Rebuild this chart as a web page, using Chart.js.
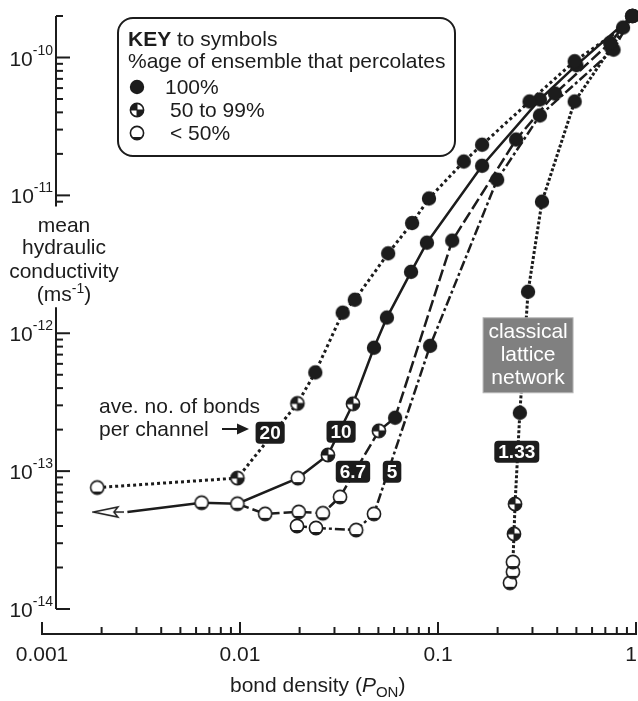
<!DOCTYPE html>
<html>
<head>
<meta charset="utf-8">
<script src="https://cdn.jsdelivr.net/npm/chart.js@4.4.1/dist/chart.umd.min.js"></script>
<style>
  html, body { margin: 0; padding: 0; background: #fff; }
  #wrap { width: 638px; height: 701px; position: relative; }
</style>
</head>
<body>
<div id="wrap"><canvas id="c"></canvas></div>
<script>
// Mean hydraulic conductivity (m s^-1) against bond density P_ON,
// one curve per average number of bonds per channel.
// Status codes: F = 100 % of ensemble percolates, P = 50 to 99 %, O = < 50 %, '' = no symbol.

const bonds20X = [0.0019, 0.0097, 0.0195, 0.024, 0.033, 0.038, 0.056, 0.074, 0.090, 0.135, 0.167, 0.29, 0.49, 0.86, 0.96];
const bonds20Y = [7.6e-14, 8.9e-14, 3.1e-13, 5.2e-13, 1.41e-12, 1.75e-12, 3.8e-12, 6.3e-12, 9.5e-12, 1.76e-11, 2.33e-11, 4.8e-11, 9.4e-11, 1.65e-10, 2.0e-10];
const bonds20S = ['O', 'P', 'P', 'F', 'F', 'F', 'F', 'F', 'F', 'F', 'F', 'F', 'F', 'F', 'F'];

const bonds10X = [0.0027, 0.0064, 0.0097, 0.0196, 0.0278, 0.0372, 0.0475, 0.0552, 0.0731, 0.0879, 0.167, 0.327, 0.50, 0.96];
const bonds10Y = [5.05e-14, 5.9e-14, 5.8e-14, 8.9e-14, 1.31e-13, 3.08e-13, 7.85e-13, 1.30e-12, 2.79e-12, 4.54e-12, 1.64e-11, 4.96e-11, 8.8e-11, 2.0e-10];
const bonds10S = ['', 'O', 'O', 'O', 'P', 'P', 'F', 'F', 'F', 'F', 'F', 'F', 'F', 'F'];

const bonds67X = [0.0097, 0.0134, 0.0198, 0.0262, 0.032, 0.0503, 0.0607, 0.118, 0.248, 0.39, 0.74, 0.96];
const bonds67Y = [5.8e-14, 4.9e-14, 5.06e-14, 4.95e-14, 6.5e-14, 1.96e-13, 2.44e-13, 4.7e-12, 2.54e-11, 5.48e-11, 1.28e-10, 2.0e-10];
const bonds67S = ['', 'O', 'O', 'O', 'O', 'P', 'F', 'F', 'F', 'F', 'F', 'F'];

const bonds5X = [0.0194, 0.0242, 0.0386, 0.0475, 0.0912, 0.199, 0.327, 0.77, 0.96];
const bonds5Y = [4.0e-14, 3.87e-14, 3.74e-14, 4.9e-14, 8.1e-13, 1.30e-11, 3.8e-11, 1.14e-10, 2.0e-10];
const bonds5S = ['O', 'O', 'O', 'O', 'F', 'F', 'F', 'F', 'F'];

const latticeX = [0.231, 0.239, 0.239, 0.242, 0.245, 0.259, 0.285, 0.335, 0.49, 0.75, 0.96];
const latticeY = [1.55e-14, 1.86e-14, 2.19e-14, 3.51e-14, 5.78e-14, 2.65e-13, 2.0e-12, 9.0e-12, 4.8e-11, 1.18e-10, 2.0e-10];
const latticeS = ['O', 'O', 'O', 'P', 'P', 'F', 'F', 'F', 'F', 'F', 'F'];

// arrow marking the low-density continuation of the curves
const arrowX = [0.00215];
const arrowY = [5.05e-14];

// curve tags (average number of bonds per channel)
const tagText = ['20', '10', '6.7', '5', '1.33'];
const tagX = [0.0142, 0.0324, 0.0372, 0.0586, 0.25];
const tagY = [1.9e-13, 1.93e-13, 9.9e-14, 9.9e-14, 1.38e-13];

// axis ticks
const xMajor = [0.001, 0.01, 0.1, 1];
const xMajorText = ['0.001', '0.01', '0.1', '1'];
const yMajor = [1e-14, 1e-13, 1e-12, 1e-11, 1e-10];
const yMajorExp = ['-14', '-13', '-12', '-11', '-10'];

const INK = '#1c1c1c';
const FONT = '"Liberation Sans", Arial, Helvetica, sans-serif';

// symbol images
function makeMarker(kind) {
  const s = 18, m = s / 2, r = 6.6;
  const c = document.createElement('canvas');
  c.width = s; c.height = s;
  const g = c.getContext('2d');
  g.strokeStyle = INK; g.fillStyle = INK; g.lineWidth = 1.6;
  if (kind === 'F') {
    g.beginPath(); g.arc(m, m, r + 0.6, 0, Math.PI * 2); g.fill();
  } else if (kind === 'P') {
    g.beginPath(); g.arc(m, m, r, 0, Math.PI * 2); g.fillStyle = '#fff'; g.fill();
    g.fillStyle = INK;
    g.beginPath(); g.moveTo(m, m); g.arc(m, m, r, Math.PI, Math.PI * 1.5); g.closePath(); g.fill();
    g.beginPath(); g.moveTo(m, m); g.arc(m, m, r, 0, Math.PI * 0.5); g.closePath(); g.fill();
    g.beginPath(); g.moveTo(m - r, m); g.lineTo(m + r, m); g.moveTo(m, m - r); g.lineTo(m, m + r); g.lineWidth = 1; g.stroke();
    g.lineWidth = 1.6; g.beginPath(); g.arc(m, m, r, 0, Math.PI * 2); g.stroke();
  } else {
    g.beginPath(); g.arc(m, m, r, 0, Math.PI * 2); g.fillStyle = '#fff'; g.fill();
    g.fillStyle = INK;
    g.beginPath(); g.arc(m, m, r, Math.PI * 0.2, Math.PI * 0.8); g.closePath(); g.fill();
    g.beginPath(); g.arc(m, m, r, 0, Math.PI * 2); g.stroke();
  }
  return c;
}
const MARK = { F: makeMarker('F'), P: makeMarker('P'), O: makeMarker('O') };

function makeArrow() {
  const c = document.createElement('canvas');
  c.width = 32; c.height = 14;
  const g = c.getContext('2d');
  g.strokeStyle = INK; g.lineWidth = 1.5;
  g.beginPath(); g.moveTo(9, 7); g.lineTo(32, 7); g.stroke();
  g.beginPath(); g.moveTo(1.5, 7); g.lineTo(26, 2); g.lineTo(22, 7); g.lineTo(26, 12); g.closePath();
  g.fillStyle = '#fff'; g.fill(); g.stroke();
  return c;
}

const series = [
  { label: '20', x: bonds20X, y: bonds20Y, s: bonds20S, dash: [3, 3], width: 3 },
  { label: '10', x: bonds10X, y: bonds10Y, s: bonds10S, dash: [], width: 2.5 },
  { label: '6.7', x: bonds67X, y: bonds67Y, s: bonds67S, dash: [12, 4], width: 2.5 },
  { label: '5', x: bonds5X, y: bonds5Y, s: bonds5S, dash: [10, 3, 3, 3], width: 2.5 },
  { label: '1.33', x: latticeX, y: latticeY, s: latticeS, dash: [3, 2], width: 3 }
];

const datasets = series.map(sr => ({
  label: sr.label,
  data: sr.x.map((v, i) => ({ x: v, y: sr.y[i] })),
  showLine: true,
  borderColor: INK,
  backgroundColor: INK,
  borderWidth: sr.width,
  borderDash: sr.dash,
  pointStyle: sr.s.map(k => MARK[k] || MARK.F),
  pointRadius: sr.s.map(k => (k ? 7 : 0)),
  clip: false
}));
datasets.push({
  label: 'arrow',
  data: arrowX.map((v, i) => ({ x: v, y: arrowY[i] })),
  showLine: false,
  pointStyle: makeArrow(),
  pointRadius: 7,
  clip: false
});

function roundRect(ctx, x, y, w, h, r) {
  ctx.beginPath();
  ctx.moveTo(x + r, y);
  ctx.lineTo(x + w - r, y); ctx.arcTo(x + w, y, x + w, y + r, r);
  ctx.lineTo(x + w, y + h - r); ctx.arcTo(x + w, y + h, x + w - r, y + h, r);
  ctx.lineTo(x + r, y + h); ctx.arcTo(x, y + h, x, y + h - r, r);
  ctx.lineTo(x, y + r); ctx.arcTo(x, y, x + r, y, r);
  ctx.closePath();
}

// draws a run of [text, font, dy] pieces starting at x
function drawRun(ctx, pieces, x, y, align) {
  const widths = pieces.map(p => { ctx.font = p[1]; return ctx.measureText(p[0]).width; });
  const total = widths.reduce((a, b) => a + b, 0);
  let cx = align === 'right' ? x - total : align === 'center' ? x - total / 2 : x;
  ctx.textAlign = 'left';
  pieces.forEach((p, i) => {
    ctx.font = p[1];
    ctx.fillText(p[0], cx, y + (p[2] || 0));
    cx += widths[i];
  });
}

const decor = {
  id: 'decor',
  beforeDatasetsDraw(chart) {
    const { ctx, scales: { x: xs, y: ys } } = chart;
    const big = '21px ' + FONT, sup = '14px ' + FONT;
    ctx.save();
    ctx.strokeStyle = INK; ctx.fillStyle = INK; ctx.lineWidth = 2; ctx.lineCap = 'butt';
    ctx.textBaseline = 'alphabetic';

    // vertical axis, split around its title
    const ax = 56;
    const yTop = ys.getPixelForValue(2e-10);
    const yBot = ys.getPixelForValue(1e-14);
    const seg1End = ys.getPixelForValue(1e-11) + 11;
    const seg2Start = ys.getPixelForValue(1e-12) - 26;
    ctx.beginPath();
    ctx.moveTo(ax, yTop); ctx.lineTo(ax, seg1End);
    ctx.moveTo(ax, seg2Start); ctx.lineTo(ax, yBot);
    ctx.stroke();
    for (let d = -14; d <= -10; d++) {
      for (let m = 1; m <= 9; m++) {
        const v = m * Math.pow(10, d);
        if (v > 2.01e-10) continue;
        const py = ys.getPixelForValue(v);
        const inside = (py >= yTop - 0.5 && py <= seg1End) || (py >= seg2Start && py <= yBot + 0.5);
        if (!inside) continue;
        ctx.beginPath(); ctx.moveTo(ax, py); ctx.lineTo(ax + (m === 1 ? 14 : 7), py); ctx.stroke();
      }
    }
    yMajor.forEach((v, i) => {
      const py = ys.getPixelForValue(v);
      drawRun(ctx, [['10', big, 0], [yMajorExp[i], sup, -11]], 53, py + 8, 'right');
    });

    // horizontal axis, offset below the plot
    const ay = 634;
    const xl = xs.getPixelForValue(0.001), xr = xs.getPixelForValue(1);
    ctx.beginPath(); ctx.moveTo(xl, ay); ctx.lineTo(xr, ay); ctx.stroke();
    for (let d = -3; d <= 0; d++) {
      for (let m = 1; m <= 9; m++) {
        const v = m * Math.pow(10, d);
        if (v > 1.0001) continue;
        const px = xs.getPixelForValue(v);
        ctx.beginPath(); ctx.moveTo(px, ay + 1); ctx.lineTo(px, ay - (m === 1 ? 12 : 7)); ctx.stroke();
      }
    }
    ctx.font = big;
    ctx.textAlign = 'center';
    xMajor.forEach((v, i) => {
      let px = xs.getPixelForValue(v);
      const w = ctx.measureText(xMajorText[i]).width;
      px = Math.min(px, 638 - w / 2 - 1);
      ctx.fillText(xMajorText[i], px, 661);
    });

    // axis titles
    ctx.font = big;
    ctx.textAlign = 'center';
    ctx.fillText('mean', 64, 232);
    ctx.fillText('hydraulic', 64, 254);
    ctx.fillText('conductivity', 64, 278);
    drawRun(ctx, [['(ms', big, 0], ['-1', sup, -8], [')', big, 0]], 64, 301, 'center');
    drawRun(ctx, [['bond density (', big, 0], ['P', 'italic ' + big, 0], ['ON', '15px ' + FONT, 5], [')', big, 0]], 230, 692, 'left');

    // note on the tags
    ctx.textAlign = 'left';
    ctx.font = big;
    ctx.fillText('ave. no. of bonds', 99, 413);
    ctx.fillText('per channel', 99, 436);
    ctx.beginPath(); ctx.moveTo(222, 429); ctx.lineTo(240, 429); ctx.lineWidth = 2; ctx.stroke();
    ctx.beginPath(); ctx.moveTo(249, 429); ctx.lineTo(237, 423.5); ctx.lineTo(237, 434.5); ctx.closePath(); ctx.fill();
    ctx.restore();
  },
  afterDatasetsDraw(chart) {
    const { ctx, scales: { x: xs, y: ys } } = chart;
    ctx.save();
    ctx.textBaseline = 'middle';
    ctx.textAlign = 'center';

    // curve tags
    ctx.font = 'bold 19px ' + FONT;
    tagText.forEach((t, i) => {
      const px = xs.getPixelForValue(tagX[i]);
      const py = ys.getPixelForValue(tagY[i]);
      const w = ctx.measureText(t).width + 8, h = 22;
      ctx.fillStyle = INK;
      roundRect(ctx, px - w / 2, py - h / 2, w, h, 4); ctx.fill();
      ctx.fillStyle = '#fff';
      ctx.fillText(t, px, py + 1);
    });

    // lattice label
    const lx = xs.getPixelForValue(0.285), ly = ys.getPixelForValue(6.98e-13);
    ctx.fillStyle = '#808080';
    ctx.fillRect(lx - 45, ly - 37, 90, 75);
    ctx.strokeStyle = '#b8b8b8'; ctx.lineWidth = 1;
    ctx.strokeRect(lx - 45, ly - 37, 90, 75);
    ctx.fillStyle = '#fff';
    ctx.font = '21px ' + FONT;
    ctx.fillText('classical', lx, ly - 23);
    ctx.fillText('lattice', lx, ly);
    ctx.fillText('network', lx, ly + 23);

    // key box
    ctx.fillStyle = '#fff';
    ctx.strokeStyle = INK; ctx.lineWidth = 2;
    roundRect(ctx, 118, 18, 337, 138, 15); ctx.fill(); ctx.stroke();
    ctx.fillStyle = INK;
    ctx.textBaseline = 'alphabetic';
    drawRun(ctx, [['KEY', 'bold 21px ' + FONT, 0], [' to symbols', '21px ' + FONT, 0]], 128, 46, 'left');
    ctx.font = '21px ' + FONT;
    ctx.fillText('%age of ensemble that percolates', 128, 68);
    const rows = [['F', '100%', 165, 87], ['P', '50 to 99%', 170, 110], ['O', '< 50%', 170, 133]];
    rows.forEach(r => {
      const img = MARK[r[0]];
      ctx.drawImage(img, 137 - img.width / 2, r[3] - img.height / 2);
      ctx.fillText(r[1], r[2], r[3] + 7);
    });
    ctx.restore();
  }
};

new Chart(document.getElementById('c'), {
  type: 'scatter',
  data: { datasets },
  options: {
    responsive: true,
    maintainAspectRatio: false,
    animation: false,
    events: [],
    layout: { autoPadding: false, padding: { left: 42, right: 2, top: 16, bottom: 92 } },
    scales: {
      x: { type: 'logarithmic', min: 0.001, max: 1, display: false },
      y: { type: 'logarithmic', min: 1e-14, max: 2e-10, display: false }
    },
    plugins: { legend: { display: false }, tooltip: { enabled: false } }
  },
  plugins: [decor]
});
</script>
</body>
</html>
